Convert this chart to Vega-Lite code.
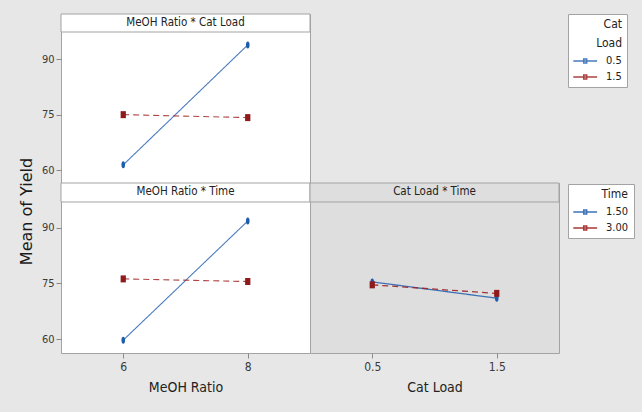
{
  "$schema": "https://vega.github.io/schema/vega-lite/v6.json",
  "background": "#e7e7e7",
  "padding": {"left": 17, "top": 13, "right": 18, "bottom": 17},
  "config": {
    "font": "'Liberation Sans Narrow', 'DejaVu Sans Condensed', sans-serif",
    "view": {"stroke": "#a3a3a3", "strokeWidth": 1},
    "axis": {"domain": false, "grid": false, "tickColor": "#8a8a8a", "tickSize": 5, "labelColor": "#3a3a3a", "labelFont": "'Liberation Sans Narrow', 'DejaVu Sans Condensed', sans-serif", "labelFontSize": 11, "titleFont": "'Liberation Sans Narrow', 'DejaVu Sans Condensed', sans-serif", "titleFontWeight": "normal", "titleColor": "#222222"},
    "axisX": {"labelFontSize": 12, "titleFontSize": 14, "labelPadding": 3, "titlePadding": 8},
    "axisY": {"labelPadding": 2},
    "legend": {"fillColor": "white", "strokeColor": "#a3a3a3", "padding": 5, "symbolSize": 196, "symbolStrokeWidth": 1.4, "labelOffset": 17, "rowPadding": 3, "labelFont": "'Liberation Sans Narrow', 'DejaVu Sans Condensed', sans-serif", "titleFont": "'Liberation Sans Narrow', 'DejaVu Sans Condensed', sans-serif", "labelFontSize": 11, "labelColor": "#222222", "titleFontSize": 12, "titleFontWeight": "normal", "titleColor": "#222222", "titleAnchor": "end", "titlePadding": 3, "titleLimit": 200}
  },
  "datasets": {
    "catload": [
      {"MeOH Ratio": 6, "Cat Load": "0.5", "Mean": 61.4},
      {"MeOH Ratio": 8, "Cat Load": "0.5", "Mean": 93.9},
      {"MeOH Ratio": 6, "Cat Load": "1.5", "Mean": 75.0},
      {"MeOH Ratio": 8, "Cat Load": "1.5", "Mean": 74.2}
    ],
    "time": [
      {"MeOH Ratio": 6, "Time": "1.50", "Mean": 59.7},
      {"MeOH Ratio": 8, "Time": "1.50", "Mean": 91.8},
      {"MeOH Ratio": 6, "Time": "3.00", "Mean": 76.2},
      {"MeOH Ratio": 8, "Time": "3.00", "Mean": 75.5}
    ],
    "cattime": [
      {"Cat Load": 0.5, "Time": "1.50", "Mean": 75.4},
      {"Cat Load": 1.5, "Time": "1.50", "Mean": 71.0},
      {"Cat Load": 0.5, "Time": "3.00", "Mean": 74.6},
      {"Cat Load": 1.5, "Time": "3.00", "Mean": 72.3}
    ]
  },
  "spacing": 0,
  "bounds": "flush",
  "resolve": {"scale": {"color": "independent", "x": "independent", "y": "independent"}},
  "vconcat": [
    {
      "width": 249,
      "height": 169,
      "view": {"fill": "white"},
      "layer": [
        {
          "data": {"values": [{"label": "MeOH Ratio * Cat Load"}]},
          "mark": {"type": "rect", "fill": "white", "stroke": "#a3a3a3", "strokeWidth": 1},
          "encoding": {
            "x": {"datum": 5, "type": "quantitative", "scale": {"domain": [5, 9], "nice": false, "zero": false}, "axis": null},
            "x2": {"datum": 9},
            "y": {"datum": 97.4, "type": "quantitative", "scale": {"domain": [56.48, 102.28], "nice": false, "zero": false}, "axis": {"values": [60, 75, 90], "title": null}},
            "y2": {"datum": 102.28}
          }
        },
        {
          "data": {"values": [{"label": "MeOH Ratio * Cat Load"}]},
          "mark": {"type": "text", "fontSize": 11.5, "color": "#222222"},
          "encoding": {
            "x": {"datum": 7, "type": "quantitative"},
            "y": {"datum": 99.85, "type": "quantitative"},
            "text": {"field": "label"}
          }
        },
        {
          "data": {"name": "catload"},
          "mark": {"type": "line", "strokeWidth": 1.1, "opacity": 0.85},
          "encoding": {
            "x": {"field": "MeOH Ratio", "type": "quantitative"},
            "y": {"field": "Mean", "type": "quantitative"},
            "color": {"field": "Cat Load", "type": "nominal", "scale": {"domain": ["0.5", "1.5"], "range": ["#2a64b3", "#a02222"]},
              "legend": {"orient": "none", "legendX": 507, "legendY": 0, "title": ["Cat", "Load"], "titleLineHeight": 19,
                "symbolType": "M-1.1,0H2.3M0.38,-0.28H0.82V0.28H0.38Z"}},
            "strokeDash": {"condition": {"test": "datum['Cat Load'] === '1.5'", "value": [6, 4]}, "value": [1, 0]}
          }
        },
        {
          "data": {"name": "catload"},
          "transform": [{"filter": "datum['Cat Load'] === '0.5'"}],
          "mark": {"type": "point", "filled": true, "opacity": 1, "size": 49, "color": "#1f5cab", "shape": "M0,-1C0.7,-1 0.7,1 0,1C-0.7,1 -0.7,-1 0,-1Z"},
          "encoding": {
            "x": {"field": "MeOH Ratio", "type": "quantitative"},
            "y": {"field": "Mean", "type": "quantitative"}
          }
        },
        {
          "data": {"name": "catload"},
          "transform": [{"filter": "datum['Cat Load'] === '1.5'"}],
          "mark": {"type": "point", "filled": true, "opacity": 1, "size": 49, "color": "#8e1a1a", "shape": "M-0.75,-1H0.75V1H-0.75Z"},
          "encoding": {
            "x": {"field": "MeOH Ratio", "type": "quantitative"},
            "y": {"field": "Mean", "type": "quantitative"}
          }
        }
      ]
    },
    {
      "spacing": 0,
      "bounds": "flush",
      "resolve": {"scale": {"color": "independent", "x": "independent", "y": "independent"}},
      "hconcat": [
        {
          "width": 249,
          "height": 170,
          "view": {"fill": "white"},
          "layer": [
            {
              "data": {"values": [{"label": "MeOH Ratio * Time"}]},
              "mark": {"type": "rect", "fill": "white", "stroke": "#a3a3a3", "strokeWidth": 1},
              "encoding": {
                "x": {"datum": 5, "type": "quantitative", "scale": {"domain": [5, 9], "nice": false, "zero": false}, "axis": {"values": [6, 8], "title": "MeOH Ratio", "format": "d"}},
                "x2": {"datum": 9},
                "y": {"datum": 96.93, "type": "quantitative", "scale": {"domain": [56.23, 102.05], "nice": false, "zero": false},
                  "axis": {"values": [60, 75, 90], "title": "Mean of Yield", "titleFont": "DejaVu Sans", "titleFontSize": 16, "titleX": -35, "titleY": 28, "titleAngle": 270, "titleAlign": "center", "titleBaseline": "middle", "titleColor": "#1a1a1a"}},
                "y2": {"datum": 102.05}
              }
            },
            {
              "data": {"values": [{"label": "MeOH Ratio * Time"}]},
              "mark": {"type": "text", "fontSize": 11.5, "color": "#222222"},
              "encoding": {
                "x": {"datum": 7, "type": "quantitative"},
                "y": {"datum": 99.5, "type": "quantitative"},
                "text": {"field": "label"}
              }
            },
            {
              "data": {"name": "time"},
              "mark": {"type": "line", "strokeWidth": 1.1, "opacity": 0.85},
              "encoding": {
                "x": {"field": "MeOH Ratio", "type": "quantitative"},
                "y": {"field": "Mean", "type": "quantitative"},
                "color": {"field": "Time", "type": "nominal", "scale": {"domain": ["1.50", "3.00"], "range": ["#2a64b3", "#a02222"]}, "legend": null},
                "strokeDash": {"condition": {"test": "datum['Time'] === '3.00'", "value": [6, 4]}, "value": [1, 0]}
              }
            },
            {
              "data": {"name": "time"},
              "transform": [{"filter": "datum['Time'] === '1.50'"}],
              "mark": {"type": "point", "filled": true, "opacity": 1, "size": 49, "color": "#1f5cab", "shape": "M0,-1C0.7,-1 0.7,1 0,1C-0.7,1 -0.7,-1 0,-1Z"},
              "encoding": {
                "x": {"field": "MeOH Ratio", "type": "quantitative"},
                "y": {"field": "Mean", "type": "quantitative"}
              }
            },
            {
              "data": {"name": "time"},
              "transform": [{"filter": "datum['Time'] === '3.00'"}],
              "mark": {"type": "point", "filled": true, "opacity": 1, "size": 49, "color": "#8e1a1a", "shape": "M-0.75,-1H0.75V1H-0.75Z"},
              "encoding": {
                "x": {"field": "MeOH Ratio", "type": "quantitative"},
                "y": {"field": "Mean", "type": "quantitative"}
              }
            }
          ]
        },
        {
          "width": 249,
          "height": 170,
          "view": {"fill": "#dedede"},
          "layer": [
            {
              "data": {"values": [{"label": "Cat Load * Time"}]},
              "mark": {"type": "rect", "fill": "#dedede", "stroke": "#a3a3a3", "strokeWidth": 1},
              "encoding": {
                "x": {"datum": 0, "type": "quantitative", "scale": {"domain": [0, 2], "nice": false, "zero": false}, "axis": {"values": [0.5, 1.5], "title": "Cat Load", "format": ".1f"}},
                "x2": {"datum": 2},
                "y": {"datum": 96.93, "type": "quantitative", "scale": {"domain": [56.23, 102.05], "nice": false, "zero": false}, "axis": null},
                "y2": {"datum": 102.05}
              }
            },
            {
              "data": {"values": [{"label": "Cat Load * Time"}]},
              "mark": {"type": "text", "fontSize": 11.5, "color": "#222222"},
              "encoding": {
                "x": {"datum": 1, "type": "quantitative"},
                "y": {"datum": 99.5, "type": "quantitative"},
                "text": {"field": "label"}
              }
            },
            {
              "data": {"name": "cattime"},
              "mark": {"type": "line", "strokeWidth": 1.3, "opacity": 0.9},
              "encoding": {
                "x": {"field": "Cat Load", "type": "quantitative"},
                "y": {"field": "Mean", "type": "quantitative"},
                "color": {"field": "Time", "type": "nominal", "scale": {"domain": ["1.50", "3.00"], "range": ["#2a64b3", "#a02222"]},
                  "legend": {"orient": "none", "legendX": 258, "legendY": 1, "title": "Time",
                    "symbolType": "M-1.1,0H2.3M0.38,-0.28H0.82V0.28H0.38Z"}},
                "strokeDash": {"condition": {"test": "datum['Time'] === '3.00'", "value": [6, 4]}, "value": [1, 0]}
              }
            },
            {
              "data": {"name": "cattime"},
              "transform": [{"filter": "datum['Time'] === '1.50'"}],
              "mark": {"type": "point", "filled": true, "opacity": 1, "size": 49, "color": "#1f5cab", "shape": "M0,-1C0.7,-1 0.7,1 0,1C-0.7,1 -0.7,-1 0,-1Z"},
              "encoding": {
                "x": {"field": "Cat Load", "type": "quantitative"},
                "y": {"field": "Mean", "type": "quantitative"}
              }
            },
            {
              "data": {"name": "cattime"},
              "transform": [{"filter": "datum['Time'] === '3.00'"}],
              "mark": {"type": "point", "filled": true, "opacity": 1, "size": 49, "color": "#8e1a1a", "shape": "M-0.75,-1H0.75V1H-0.75Z"},
              "encoding": {
                "x": {"field": "Cat Load", "type": "quantitative"},
                "y": {"field": "Mean", "type": "quantitative"}
              }
            }
          ]
        }
      ]
    }
  ]
}
